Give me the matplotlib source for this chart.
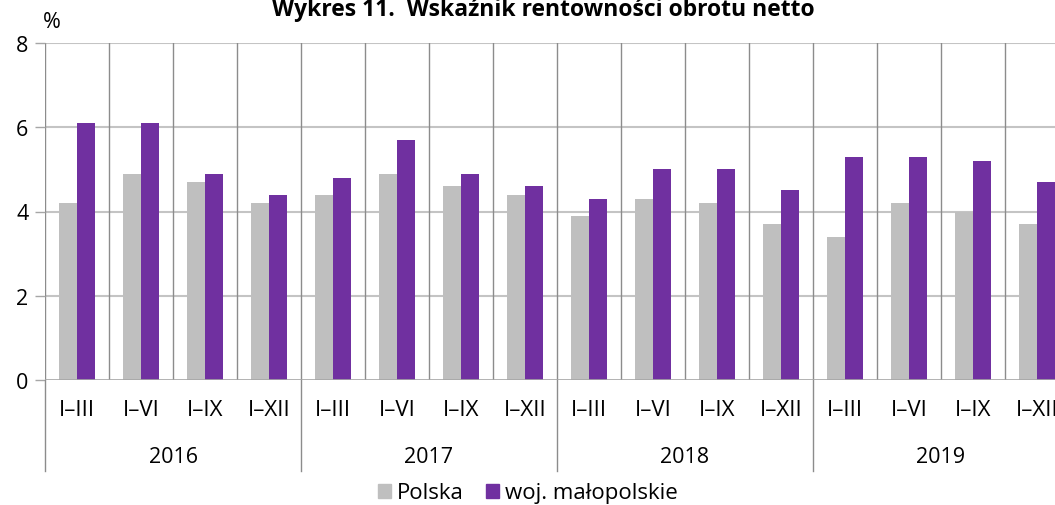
import numpy as np
import matplotlib
matplotlib.use('Agg')
import matplotlib.pyplot as plt
from matplotlib.patches import Patch

plt.rcParams['font.family'] = ['Open Sans', 'DejaVu Sans']

years = ['2016', '2017', '2018', '2019']
quarters = ['I–III', 'I–VI', 'I–IX', 'I–XII']
polska = [4.2, 4.9, 4.7, 4.2, 4.4, 4.9, 4.6, 4.4, 3.9, 4.3, 4.2, 3.7, 3.4, 4.2, 4.0, 3.7]
malopolskie = [6.1, 6.1, 4.9, 4.4, 4.8, 5.7, 4.9, 4.6, 4.3, 5.0, 5.0, 4.5, 5.3, 5.3, 5.2, 4.7]

W, H = 1055, 506
fig = plt.figure(figsize=(W / 100, H / 100), dpi=100)
# plot area goes past the right edge, like in the source picture
ax = fig.add_axes([45 / W, (H - 381) / H, 1024 / W, 337 / H])

n = len(polska)
x = np.arange(n) + 0.5
bw = 0.285
ax.bar(x - bw / 2, polska, bw, color='#bfbfbf', zorder=3)
ax.bar(x + bw / 2, malopolskie, bw, color='#7030a0', zorder=3)

ax.set_xlim(0, n)
ax.set_ylim(0, 8)
ax.set_yticks([0, 2, 4, 6, 8])
ax.tick_params(axis='y', length=7, width=1, color='#a6a6a6', labelsize=15.5, pad=5)
for yv in [2, 4, 6, 8]:
    ax.axhline(yv, color='#c4c4c4', lw=1.5, zorder=1)
ax.axhline(0, color='#a6a6a6', lw=1.2, zorder=4)
for xv in range(n + 1):
    ax.axvline(xv, color='#8c8c8c', lw=1, zorder=1)

for s in ax.spines.values():
    s.set_visible(False)

ax.set_xticks([])
tr = ax.get_xaxis_transform()
labels = quarters * len(years)
for i, lab in enumerate(labels):
    ax.text(x[i], -0.089, lab, transform=tr, ha='center', va='center', fontsize=16, clip_on=False)
for j, yr in enumerate(years):
    ax.text(j * 4 + 2, -0.228, yr, transform=tr, ha='center', va='center', fontsize=15.5, clip_on=False)
for j in range(len(years) + 1):
    ax.plot([j * 4, j * 4], [0, -0.27], transform=tr, color='#8c8c8c', lw=1, clip_on=False)

fig.text(52 / W, 1 - 22 / H, '%', fontsize=15.5, ha='center', va='center')
fig.text(543 / W, 1 - 16 / H, 'Wykres 11.  Wskaźnik rentowności obrotu netto',
         fontsize=16.5, fontweight='bold', ha='center', va='baseline')

handles = [Patch(color='#bfbfbf', label='Polska'), Patch(color='#7030a0', label='woj. małopolskie')]
fig.legend(handles=handles, loc='center', bbox_to_anchor=(0.5, 1 - 494 / H), ncol=2, frameon=False,
           fontsize=16, handlelength=0.6, handleheight=0.6, handletextpad=0.25, columnspacing=1.0)

fig.savefig('out.png', dpi=100)
